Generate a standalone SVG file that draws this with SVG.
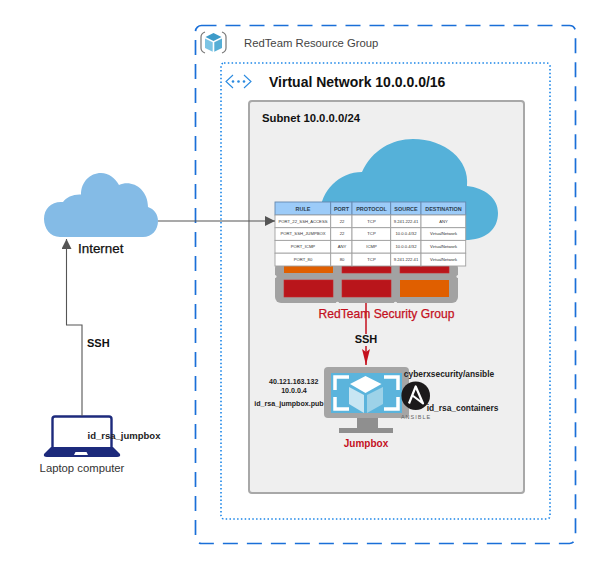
<svg xmlns="http://www.w3.org/2000/svg" width="600" height="569" viewBox="0 0 600 569">
<style>
text{font-family:"Liberation Sans",Arial,sans-serif;fill:#111}
.b{font-weight:bold}
.m{stroke:#111;stroke-width:.25}
.th{font-size:5.45px;font-weight:bold;fill:#2c3e50;text-anchor:middle}
.td{font-size:4.2px;fill:#333;text-anchor:middle}
.cell{fill:#fff;stroke:#a0a0a0;stroke-width:.9}
.hd{fill:#9ccbf8;stroke:#6488b0;stroke-width:.9}
.red{fill:#b9151b;stroke:#c9252b;stroke-width:.6}
.org{fill:#e05f00}
.lbl{font-size:7.1px;font-weight:bold;fill:#222;text-anchor:middle}
.lbl2{font-size:8.4px;font-weight:bold;fill:#222;text-anchor:middle}
.conn{fill:none;stroke:#555;stroke-width:1.1}
</style>
<defs>
<marker id="arrG" markerUnits="userSpaceOnUse" markerWidth="12" markerHeight="12" refX="10" refY="5" orient="auto"><path d="M0 0L10 5L0 10Z" fill="#555"/></marker>
<marker id="arrR" markerUnits="userSpaceOnUse" markerWidth="18" markerHeight="10" refX="16" refY="4" orient="auto"><path d="M0 0L16 4L0 8L3 4Z" fill="#c4101e"/></marker>
</defs>
<rect width="600" height="569" fill="#fff"/>
<g id="resource-group">
<rect x="195.500" y="25.500" width="380" height="518" rx="6" fill="none" stroke="#1a6fd8" stroke-width="1.700" stroke-dasharray="15 9"/>
<path d="M205 32Q201 33.500 201 37V48Q201 51.500 205 53M222 32Q226 33.500 226 37V48Q226 51.500 222 53" fill="none" stroke="#777" stroke-width="1.200"/>
<path d="M213.500 33l8 4-8 4-8-4z" fill="#3d9bc9"/>
<path d="M205 38.500l7.700 3.800v9.500l-7.700-3.800z" fill="#7cc4e4"/>
<path d="M222 38.500l-7.700 3.800v9.500l7.700-3.800z" fill="#55aed6"/>
<text x="244" y="47" font-size="11.300" style="fill:#444">RedTeam Resource Group</text>
</g>
<g id="virtual-network">
<rect x="221" y="63" width="329" height="456" rx="3" fill="none" stroke="#1a85e8" stroke-width="1.600" stroke-dasharray="1.500 2.300"/>
<path d="M233 75l-7 6.500 7 6.500M244 75l7 6.500-7 6.500" fill="none" stroke="#2a8ae0" stroke-width="1.100"/>
<circle cx="233" cy="81.500" r="1.300" fill="#2a8ae0"/><circle cx="238.500" cy="81.500" r="1.300" fill="#2a8ae0"/><circle cx="244" cy="81.500" r="1.300" fill="#2a8ae0"/>
<text x="269" y="87" font-size="14" class="b">Virtual Network 10.0.0.0/16</text>
</g>
<g id="subnet">
<rect x="249" y="101" width="275" height="392" rx="3" fill="#efefef" stroke="#a8a8a8" stroke-width="2"/>
<text x="262" y="122" font-size="11.300" class="b">Subnet 10.0.0.0/24</text>
</g>
<g id="internet">
<path d="M60 237C50 237 44 228 44 219C44 208 52 201 63 202C66 197 74 194 81 194.500C81 182 90 173 101 173C109 173 115 178 119 185C131 179 148 188 148 207C154 209 158 214 158 221C158 230 152 237 143 237Z" fill="#84bbe6"/>
<text x="78" y="253" font-size="13.400" class="m">Internet</text>
</g>
<g id="security-group">
<path d="M320 215C320 190 340 172 362 172C372 150 392 139 413 139C445 139 470 160 467 186C485 188 498 198 498 213C498 230 485 240 465 240H320Z" fill="#55b1d9"/>
<rect x="275" y="262" width="183" height="41" rx="6" fill="#a2a2a2"/>
<circle cx="337.500" cy="303.500" r="1.800" fill="#efefef"/><circle cx="395.500" cy="303.500" r="1.800" fill="#efefef"/><circle cx="275" cy="276.500" r="1.500" fill="#efefef"/><circle cx="458" cy="276.500" r="1.500" fill="#efefef"/>
<rect x="284" y="262" width="49" height="11" class="org"/>
<rect x="342" y="262" width="49" height="11" class="red"/>
<rect x="400" y="262" width="49" height="11" class="red"/>
<rect x="284" y="280" width="49" height="17" class="red"/>
<rect x="342" y="280" width="49" height="17" class="red"/>
<rect x="400" y="280" width="49" height="17" class="org"/>
<rect x="275" y="202" width="55.700" height="13" class="hd"/><rect x="330.700" y="202" width="21.300" height="13" class="hd"/><rect x="352" y="202" width="38.700" height="13" class="hd"/><rect x="390.700" y="202" width="30.300" height="13" class="hd"/><rect x="421" y="202" width="44.700" height="13" class="hd"/>
<rect x="275" y="215" width="55.700" height="12.700" class="cell"/><rect x="330.700" y="215" width="21.300" height="12.700" class="cell"/><rect x="352" y="215" width="38.700" height="12.700" class="cell"/><rect x="390.700" y="215" width="30.300" height="12.700" class="cell"/><rect x="421" y="215" width="44.700" height="12.700" class="cell"/>
<rect x="275" y="227.700" width="55.700" height="12.700" class="cell"/><rect x="330.700" y="227.700" width="21.300" height="12.700" class="cell"/><rect x="352" y="227.700" width="38.700" height="12.700" class="cell"/><rect x="390.700" y="227.700" width="30.300" height="12.700" class="cell"/><rect x="421" y="227.700" width="44.700" height="12.700" class="cell"/>
<rect x="275" y="240.400" width="55.700" height="12.800" class="cell"/><rect x="330.700" y="240.400" width="21.300" height="12.800" class="cell"/><rect x="352" y="240.400" width="38.700" height="12.800" class="cell"/><rect x="390.700" y="240.400" width="30.300" height="12.800" class="cell"/><rect x="421" y="240.400" width="44.700" height="12.800" class="cell"/>
<rect x="275" y="253.200" width="55.700" height="12.800" class="cell"/><rect x="330.700" y="253.200" width="21.300" height="12.800" class="cell"/><rect x="352" y="253.200" width="38.700" height="12.800" class="cell"/><rect x="390.700" y="253.200" width="30.300" height="12.800" class="cell"/><rect x="421" y="253.200" width="44.700" height="12.800" class="cell"/>
<text class="th" x="303" y="210.500">RULE</text><text class="th" x="341.500" y="210.500">PORT</text><text class="th" x="371.500" y="210.500">PROTOCOL</text><text class="th" x="406" y="210.500">SOURCE</text><text class="th" x="443.500" y="210.500">DESTINATION</text>
<text class="td" x="303" y="222.500">PORT_22_SSH_ACCESS</text><text class="td" x="342" y="222.500">22</text><text class="td" x="371.500" y="222.500">TCP</text><text class="td" x="406" y="222.500">9.241.222.41</text><text class="td" x="443.500" y="222.500">ANY</text>
<text class="td" x="303" y="235.200">PORT_SSH_JUMPBOX</text><text class="td" x="342" y="235.200">22</text><text class="td" x="371.500" y="235.200">TCP</text><text class="td" x="406" y="235.200">10.0.0.4/32</text><text class="td" x="443.500" y="235.200">VirtualNetwork</text>
<text class="td" x="303" y="247.900">PORT_ICMP</text><text class="td" x="342" y="247.900">ANY</text><text class="td" x="371.500" y="247.900">ICMP</text><text class="td" x="406" y="247.900">10.0.0.4/32</text><text class="td" x="443.500" y="247.900">VirtualNetwork</text>
<text class="td" x="303" y="260.700">PORT_80</text><text class="td" x="342" y="260.700">80</text><text class="td" x="371.500" y="260.700">TCP</text><text class="td" x="406" y="260.700">9.241.222.41</text><text class="td" x="443.500" y="260.700">VirtualNetwork</text>
<text x="386.500" y="318" font-size="12.100" text-anchor="middle" style="fill:#c4101e;stroke:#c4101e;stroke-width:.25">RedTeam Security Group</text>
</g>
<g id="jumpbox">
<path d="M328 367h77q4 0 4 4v43q0 4-4 4h-77q-4 0-4-4v-43q0-4 4-4z" fill="#a5a5a5"/>
<path d="M357 418h21v10h15v5h-54v-5h18z" fill="#8f8f8f"/>
<rect x="331" y="373" width="71" height="40" fill="#5bb4dc"/>
<path d="M349 377h-14v13M335 397v12h14M384 377h14v13M398 397v12h-14" fill="none" stroke="#fff" stroke-width="3.500"/>
<path d="M365.500 376l16 8-16 9-15.500-9z" fill="#fff"/>
<path d="M349 387l15 8v18l-15-9z" fill="#c8e6f3"/>
<path d="M383 387l-16 8v18l16-9z" fill="#9dd2e8"/>
<circle cx="415.700" cy="395.700" r="14.300" fill="#1c1a1b"/>
<path d="M409 403.500L415.700 386.500L423 403.500L412.500 395.500" fill="none" stroke="#fff" stroke-width="2.200" stroke-linejoin="round"/>
<text x="416" y="419" font-size="5.500" text-anchor="middle" letter-spacing="1" style="fill:#666">ANSIBLE</text>
<text x="293.700" y="384" class="lbl">40.121.163.132</text>
<text x="294" y="393" class="lbl">10.0.0.4</text>
<text x="289" y="406" class="lbl">id_rsa_jumpbox.pub</text>
<text x="449" y="377" class="lbl2">cyberxsecurity/ansible</text>
<text x="462.500" y="411" class="lbl2">id_rsa_containers</text>
<text x="366" y="447" font-size="10" class="b" text-anchor="middle" style="fill:#c4101e">Jumpbox</text>
</g>
<g id="laptop">
<path d="M52.500 448v-29q0-2.500 2.500-2.500h54q2.500 0 2.500 2.500v29" fill="#fff" stroke="#1d2a7c" stroke-width="2.400"/>
<path d="M51 447H113L120 454Q121 457 117 457H47Q43 457 44 454Z" fill="#1d2a7c"/>
<path d="M74 455l1.500-3h11l1.500 3z" fill="#fff"/>
<text x="124" y="439" text-anchor="middle" class="b" font-size="9.500" style="fill:#222">id_rsa_jumpbox</text>
<text x="82" y="472" font-size="11.300" text-anchor="middle" style="fill:#333">Laptop computer</text>
</g>
<g id="connectors">
<path class="conn" d="M158 221H275" marker-end="url(#arrG)"/>
<path class="conn" d="M82 416V325H66.500V239" marker-end="url(#arrG)"/>
<path d="M366 303V365" fill="none" stroke="#c4101e" stroke-width="1.500" marker-end="url(#arrR)"/>
<rect x="353" y="334" width="26" height="12" fill="#efefef"/>
<text x="366" y="343" font-size="11" class="b" text-anchor="middle">SSH</text>
<rect x="84" y="337" width="28" height="12" fill="#fff"/>
<text x="87" y="347" font-size="11" class="b">SSH</text>
</g>
</svg>
